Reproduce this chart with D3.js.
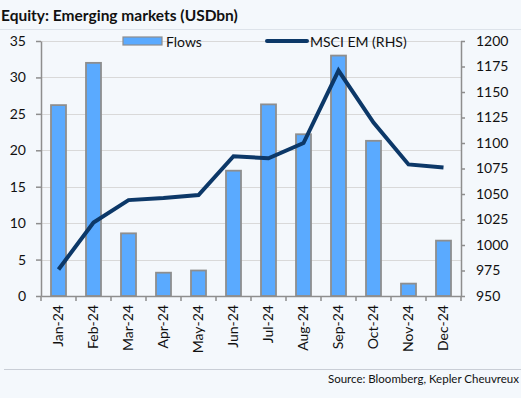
<!DOCTYPE html>
<html><head><meta charset="utf-8">
<script src="https://cdn.jsdelivr.net/npm/d3@7"></script>
<style>
html,body{margin:0;padding:0;background:#f4f8fc;}
svg{display:block;font-family:"Lato","Open Sans",sans-serif;}
</style></head>
<body>
<svg id="c" width="521" height="398"></svg>
<script>
const months = ["Jan-24","Feb-24","Mar-24","Apr-24","May-24","Jun-24","Jul-24","Aug-24","Sep-24","Oct-24","Nov-24","Dec-24"];
const flows = [26.2, 32.0, 8.6, 3.2, 3.5, 17.2, 26.3, 22.2, 33.0, 21.3, 1.7, 7.6];
const msci = [976, 1022, 1044, 1046, 1049, 1087, 1085, 1100, 1171, 1120, 1079, 1076];
const leftTicks = [0,5,10,15,20,25,30,35];
const rightTicks = [950,975,1000,1025,1050,1075,1100,1125,1150,1175,1200];

const svg = d3.select("#c");
const W = 521, H = 398;
const x0 = 41, x1 = 461, yTop = 41, yBot = 296;

svg.append("rect").attr("width",W).attr("height",H).attr("fill","#f4f8fc");

svg.append("text").attr("x",1).attr("y",21).attr("font-size",15.5).attr("font-weight","bold")
  .attr("fill","#111").text("Equity: Emerging markets (USDbn)");
svg.append("line").attr("x1",0).attr("x2",W).attr("y1",29.5).attr("y2",29.5).attr("stroke","#dde3ea").attr("stroke-width",1);

const xb = d3.scaleBand().domain(months).range([x0,x1]);
const yL = d3.scaleLinear().domain([0,35]).range([yBot,yTop]);
const yR = d3.scaleLinear().domain([950,1200]).range([yBot,yTop]);

// gridlines
svg.append("g").selectAll("line").data(leftTicks.slice(1)).join("line")
  .attr("x1",x0).attr("x2",x1).attr("y1",d=>Math.round(yL(d))+0.5).attr("y2",d=>Math.round(yL(d))+0.5)
  .attr("stroke","#d9d9d9").attr("stroke-width",1);

// bars
svg.append("g").selectAll("rect").data(flows).join("rect")
  .attr("x",(d,i)=>xb(months[i])+xb.bandwidth()/2-7.5)
  .attr("width",15)
  .attr("y",d=>yL(d)).attr("height",d=>yBot-yL(d))
  .attr("fill","#5aaaff").attr("stroke","#8e8e8e").attr("stroke-width",1.8);

// line
const line = d3.line().x((d,i)=>xb(months[i])+xb.bandwidth()/2).y(d=>yR(d));
svg.append("path").datum(msci).attr("d",line).attr("fill","none")
  .attr("stroke","#0c3868").attr("stroke-width",4).attr("stroke-linejoin","miter");

// left axis
const gL = svg.append("g").attr("transform",`translate(${x0},0)`)
  .call(d3.axisLeft(yL).tickValues(leftTicks).tickSize(5).tickPadding(10).tickSizeOuter(0).tickFormat(d3.format("d")));
// right axis
const gR = svg.append("g").attr("transform",`translate(${x1},0)`)
  .call(d3.axisRight(yR).tickValues(rightTicks).tickSize(4).tickPadding(11).tickSizeOuter(0).tickFormat(d3.format("d")));
// bottom axis
const gB = svg.append("g").attr("transform",`translate(0,${yBot})`)
  .call(d3.axisBottom(xb).tickSize(0).tickSizeOuter(0));
gB.selectAll(".tick text").attr("transform","rotate(-90)").attr("text-anchor","end")
  .attr("x",-9).attr("y",0).attr("dy","0.35em");
// category boundary ticks
svg.append("g").selectAll("line").data(d3.range(months.length+1)).join("line")
  .attr("x1",i=>x0+i*xb.step()).attr("x2",i=>x0+i*xb.step())
  .attr("y1",yBot).attr("y2",yBot+5).attr("stroke","#8e8e8e").attr("stroke-width",1.5);

[gL,gR,gB].forEach(g=>{
  g.selectAll(".domain").attr("stroke","#8e8e8e").attr("stroke-width",1.5);
  g.selectAll(".tick line").attr("stroke","#8e8e8e").attr("stroke-width",1.5);
  g.selectAll(".tick text").attr("font-size",14).attr("fill","#111").attr("font-family","Lato, 'Open Sans', sans-serif");
});

// legend
const lg = svg.append("g");
lg.append("rect").attr("x",123).attr("y",37).attr("width",39).attr("height",8)
  .attr("fill","#5aaaff").attr("stroke","#8e8e8e").attr("stroke-width",1.2);
lg.append("text").attr("x",166).attr("y",46.5).attr("font-size",14).attr("fill","#111").text("Flows");
lg.append("line").attr("x1",267).attr("x2",307).attr("y1",41).attr("y2",41)
  .attr("stroke","#0c3868").attr("stroke-width",4).attr("stroke-linecap","round");
lg.append("text").attr("x",310).attr("y",46.5).attr("font-size",14).attr("fill","#111").text("MSCI EM (RHS)");

// footer
svg.append("line").attr("x1",4).attr("x2",W).attr("y1",369.5).attr("y2",369.5).attr("stroke","#c9ced6").attr("stroke-width",1);
svg.append("text").attr("x",W-2).attr("y",383).attr("text-anchor","end").attr("font-size",11.5)
  .attr("fill","#111").text("Source: Bloomberg, Kepler Cheuvreux");
</script>
</body></html>
